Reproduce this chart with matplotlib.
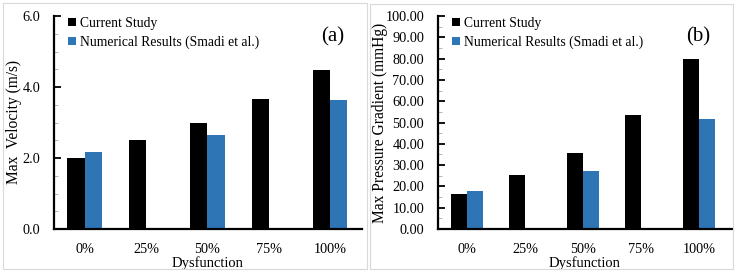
import numpy as np
import matplotlib
matplotlib.use("Agg")
import matplotlib.pyplot as plt
from matplotlib.patches import Rectangle
from matplotlib.ticker import MultipleLocator, FormatStrFormatter

plt.rcParams["font.family"] = ["Liberation Serif", "DejaVu Serif"]

categories = ["0%", "25%", "50%", "75%", "100%"]

# panel (a) max velocity, m/s
velocity_current = [2.01, 2.51, 2.99, 3.66, 4.47]
velocity_smadi = [2.18, np.nan, 2.64, np.nan, 3.64]

# panel (b) max pressure gradient, mmHg
pressure_current = [16.3, 25.5, 35.8, 53.6, 79.8]
pressure_smadi = [17.9, np.nan, 27.3, np.nan, 51.7]

series_labels = ["Current Study", "Numerical Results (Smadi et al.)"]
BLACK = "#000000"
BLUE = "#2E75B6"

W, H = 739, 274
fig = plt.figure(figsize=(W / 100, H / 100), dpi=100)


def px_axes(left, top, right, bottom):
    return fig.add_axes([left / W, 1 - bottom / H, (right - left) / W, (bottom - top) / H])


def panel_border(left, top, right, bottom):
    fig.patches.append(Rectangle((left / W, 1 - bottom / H), (right - left) / W, (bottom - top) / H,
                                 transform=fig.transFigure, fill=False,
                                 edgecolor="#d9d9d9", linewidth=0.8))


def draw_panel(ax, current, smadi, ymax, major, minor, fmt, ylabel, ypad, tag, tag_x, xlim_right):
    x = np.arange(len(categories))
    w = 0.28
    ax.bar(x - w / 2, current, w, color=BLACK, label=series_labels[0])
    ax.bar(x + w / 2, smadi, w, color=BLUE, label=series_labels[1])

    ax.set_xlim(-0.5, xlim_right)
    ax.set_ylim(0, ymax)
    ax.set_xticks(x)
    ax.set_xticklabels(categories)
    ax.yaxis.set_major_locator(MultipleLocator(major))
    ax.yaxis.set_minor_locator(MultipleLocator(minor))
    ax.yaxis.set_major_formatter(FormatStrFormatter(fmt))

    for s in ["top", "right"]:
        ax.spines[s].set_visible(False)
    ax.spines["left"].set_linewidth(1.6)
    ax.spines["bottom"].set_linewidth(1.6)

    ax.tick_params(axis="y", which="major", direction="in", length=5, width=1.3,
                   pad=10, labelsize=10.3)
    ax.tick_params(axis="y", which="minor", direction="in", length=3, width=0.6,
                   color="#aaaaaa")
    ax.tick_params(axis="x", length=0, pad=10, labelsize=10.3)

    ax.set_xlabel("Dysfunction", fontsize=10.5, labelpad=0)
    ax.set_ylabel(ylabel, fontsize=11.2, labelpad=ypad)

    ax.legend(loc="upper left", bbox_to_anchor=(0.02, 1.035), frameon=False, fontsize=9.8,
              handlelength=0.55, handleheight=0.55, handletextpad=0.3,
              labelspacing=0.4, borderaxespad=0.2)
    ax.text(tag_x, 0.9, tag, transform=ax.transAxes, fontsize=15, ha="center", va="center")


# panel (a)
panel_border(3, 3, 367, 269)
ax_a = px_axes(54, 16, 362, 229)
draw_panel(ax_a, velocity_current, velocity_smadi, 6.0, 2.0, 0.5, "%.1f",
           "Max  Velocity (m/s)", 0.5, "(a)", 0.905, 4.52)

# panel (b)
panel_border(370, 4, 733, 269)
ax_b = px_axes(438, 16, 732, 229)
draw_panel(ax_b, pressure_current, pressure_smadi, 100.0, 10.0, 5.0, "%.2f",
           "Max Pressure Gradient (mmHg)", -2.0, "(b)", 0.885, 4.57)

fig.savefig("out.png", dpi=100)
